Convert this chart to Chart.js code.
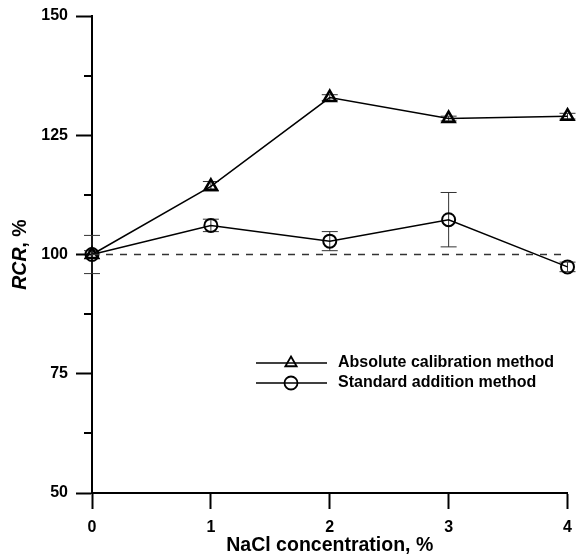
<!DOCTYPE html>
<html>
<head>
<meta charset="utf-8">
<script src="https://cdn.jsdelivr.net/npm/chart.js@4"></script>
<style>
  html, body { margin: 0; padding: 0; background: #fff; }
  #wrap { width: 577px; height: 555px; }
</style>
</head>
<body>
<div id="wrap"><canvas id="chart"></canvas></div>
<script>
// NaCl concentration, %
const naclConc = [0, 1, 2, 3, 4];

// absolute calibration method
const absoluteRcr = [100, 114.3, 132.9, 128.5, 129.0];
const absoluteErr = [0.8, 1.0, 0.6, 0.5, 0.6];

// standard addition method
const standardRcr = [100, 106.1, 102.8, 107.3, 97.4];
const standardErr = [4.0, 1.3, 2.0, 5.7, 1.0];

const yTicks = [50, 75, 100, 125, 150];
const yMinorTicks = [62.5, 87.5, 112.5, 137.5];
const xTicks = [0, 1, 2, 3, 4];
const referenceLevel = 100;

const FONT = '"Liberation Sans", Arial, sans-serif';

const toPoints = (xs, ys) => xs.map((x, i) => ({ x, y: ys[i] }));

// error bars, minor ticks, axis titles and the legend box
const extrasPlugin = {
    id: 'extras',
    beforeDatasetsDraw(chart) {
        const ctx = chart.ctx;
        const xs = chart.scales.x, ys = chart.scales.y;
        ctx.save();
        ctx.strokeStyle = '#333';
        ctx.lineWidth = 1;
        chart.data.datasets.forEach(ds => {
            if (!ds.errors) return;
            ds.data.forEach((p, i) => {
                const px = xs.getPixelForValue(p.x);
                const top = ys.getPixelForValue(p.y + ds.errors[i]);
                const bot = ys.getPixelForValue(p.y - ds.errors[i]);
                ctx.beginPath();
                ctx.moveTo(px, top); ctx.lineTo(px, bot);
                ctx.moveTo(px - 8, top); ctx.lineTo(px + 8, top);
                ctx.moveTo(px - 8, bot); ctx.lineTo(px + 8, bot);
                ctx.stroke();
            });
        });
        ctx.restore();
    },
    afterDraw(chart) {
        const ctx = chart.ctx;
        const ys = chart.scales.y;
        const area = chart.chartArea;
        ctx.save();
        // minor ticks on y axis
        ctx.strokeStyle = '#000';
        ctx.lineWidth = 2;
        yMinorTicks.forEach(v => {
            const py = Math.round(ys.getPixelForValue(v));
            ctx.beginPath();
            ctx.moveTo(area.left - 8, py);
            ctx.lineTo(area.left, py);
            ctx.stroke();
        });

        // x title
        ctx.fillStyle = '#000';
        ctx.font = 'bold 19.5px ' + FONT;
        ctx.textAlign = 'center';
        ctx.textBaseline = 'middle';
        ctx.fillText('NaCl concentration, %', (area.left + area.right) / 2, 546);

        // y title: italic RCR then ", %"
        ctx.translate(21, (area.top + area.bottom) / 2);
        ctx.rotate(-Math.PI / 2);
        ctx.textAlign = 'left';
        const italic = 'italic bold 19.5px ' + FONT;
        const plain = 'bold 19.5px ' + FONT;
        ctx.font = italic;
        const w1 = ctx.measureText('RCR').width;
        ctx.font = plain;
        const w2 = ctx.measureText(', %').width;
        const start = -(w1 + w2) / 2;
        ctx.font = italic;
        ctx.fillText('RCR', start, 0);
        ctx.font = plain;
        ctx.fillText(', %', start + w1, 0);
        ctx.restore();

        // legend
        ctx.save();
        const rows = [
            { label: 'Absolute calibration method', style: 'triangle', radius: 6.5, y: 363 },
            { label: 'Standard addition method', style: 'circle', radius: 6.5, y: 383 }
        ];
        rows.forEach(r => {
            ctx.strokeStyle = '#000';
            ctx.lineWidth = 1.3;
            ctx.beginPath();
            ctx.moveTo(256, r.y); ctx.lineTo(327, r.y);
            ctx.stroke();
            ctx.lineWidth = 1.8;
            ctx.fillStyle = 'rgba(255,255,255,0)';
            Chart.helpers.drawPoint(ctx, {
                pointStyle: r.style, radius: r.radius, rotation: 0, borderWidth: 1.8
            }, 291, r.y);
            ctx.fillStyle = '#000';
            ctx.font = 'bold 16px ' + FONT;
            ctx.textAlign = 'left';
            ctx.textBaseline = 'middle';
            ctx.fillText(r.label, 338, r.y);
        });
        ctx.restore();
    }
};

const ctx = document.getElementById('chart').getContext('2d');
new Chart(ctx, {
    type: 'scatter',
    data: {
        datasets: [
            {
                label: 'Reference',
                data: [{ x: naclConc[0], y: referenceLevel }, { x: naclConc[naclConc.length - 1], y: referenceLevel }],
                showLine: true,
                borderColor: '#333',
                borderWidth: 1.5,
                borderDash: [7, 7],
                pointRadius: 0
            },
            {
                label: 'Absolute calibration method',
                data: toPoints(naclConc, absoluteRcr),
                errors: absoluteErr,
                showLine: true,
                clip: false,
                borderColor: '#000',
                borderWidth: 1.5,
                pointStyle: 'triangle',
                pointRadius: 7,
                pointBorderWidth: 2.5,
                pointBorderColor: '#000',
                pointBackgroundColor: 'rgba(255,255,255,0)'
            },
            {
                label: 'Standard addition method',
                data: toPoints(naclConc, standardRcr),
                errors: standardErr,
                showLine: true,
                clip: false,
                borderColor: '#000',
                borderWidth: 1.5,
                pointStyle: 'circle',
                pointRadius: 6.5,
                pointBorderWidth: 2,
                pointBorderColor: '#000',
                pointBackgroundColor: 'rgba(255,255,255,0)'
            }
        ]
    },
    options: {
        responsive: true,
        maintainAspectRatio: false,
        animation: false,
        layout: { padding: { top: 16, right: 8, left: 0, bottom: 0 } },
        plugins: {
            legend: { display: false },
            tooltip: { enabled: false }
        },
        scales: {
            x: {
                type: 'linear',
                min: 0,
                max: 4,
                afterFit: s => { s.height = 62; s.paddingLeft = 0; s.paddingRight = 0; },
                afterBuildTicks: s => { s.ticks = xTicks.map(v => ({ value: v })); },
                border: { display: true, color: '#000', width: 2 },
                grid: { drawOnChartArea: false, drawTicks: true, tickLength: 16, tickWidth: 2, tickColor: '#000' },
                ticks: {
                    color: '#000',
                    padding: 9,
                    font: { family: FONT, size: 16, weight: 'bold' }
                }
            },
            y: {
                type: 'linear',
                min: 50,
                max: 150,
                afterFit: s => { s.width = 92; s.paddingTop = 0; s.paddingBottom = 0; },
                afterBuildTicks: s => { s.ticks = yTicks.map(v => ({ value: v })); },
                border: { display: true, color: '#000', width: 2 },
                grid: { drawOnChartArea: false, drawTicks: true, tickLength: 16, tickWidth: 2, tickColor: '#000' },
                ticks: {
                    color: '#000',
                    padding: 8,
                    font: { family: FONT, size: 16, weight: 'bold' }
                }
            }
        }
    },
    plugins: [extrasPlugin]
});
</script>
</body>
</html>
